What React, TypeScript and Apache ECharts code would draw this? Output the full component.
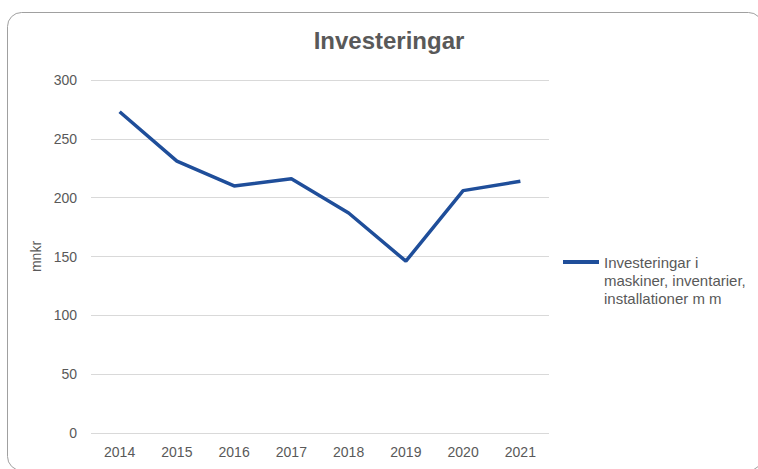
import React, { useEffect, useRef } from "react";
import * as echarts from "echarts";

const years = ["2014", "2015", "2016", "2017", "2018", "2019", "2020", "2021"];
const investeringar = [273, 231, 210, 216, 187, 146, 206, 214];
const seriesName = "Investeringar i\nmaskiner, inventarier,\ninstallationer m m";
const titleText = "Investeringar";
const yAxisName = "mnkr";

export default function App() {
  const ref = useRef<HTMLDivElement>(null);
  useEffect(() => {
    document.body.style.margin = "0";
    if (!ref.current) return;
    const chart = echarts.init(ref.current, null, { renderer: "svg" });
    chart.setOption({
      animation: false,
      backgroundColor: "#ffffff",
      textStyle: { fontFamily: "Liberation Sans, Arial, sans-serif" },
      title: {
        text: titleText,
        left: 384,
        textAlign: "center",
        top: 23,
        textStyle: { fontSize: 24, fontWeight: "bold", color: "#595959", fontFamily: "Liberation Sans, Arial, sans-serif" },
      },
      graphic: [
        {
          type: "rect",
          shape: { x: 7.5, y: 12.5, width: 755, height: 458, r: 14 },
          style: { fill: "none", stroke: "#a0a0a0", lineWidth: 1 },
          silent: true,
        },
      ],
      grid: { left: 91, right: 209, top: 80, bottom: 36, containLabel: false },
      legend: {
        left: 558,
        top: 212,
        orient: "vertical",
        icon: "rect",
        itemWidth: 36,
        itemHeight: 4,
        itemGap: 4,
        formatter: (name: string) => "\n\n" + name,
        textStyle: {
          fontSize: 15,
          color: "#595959",
          lineHeight: 18,
        },
        data: [seriesName],
      },
      xAxis: {
        type: "category",
        data: years,
        boundaryGap: true,
        axisLine: { show: false },
        axisTick: { show: false },
        axisLabel: { color: "#595959", fontSize: 14, margin: 12 },
      },
      yAxis: {
        type: "value",
        min: 0,
        max: 300,
        interval: 50,
        name: yAxisName,
        nameLocation: "middle",
        nameRotate: 90,
        nameGap: 46,
        nameTextStyle: { color: "#595959", fontSize: 14 },
        axisLine: { show: false },
        axisTick: { show: false },
        axisLabel: { color: "#595959", fontSize: 14, margin: 14 },
        splitLine: { lineStyle: { color: "#d9d9d9", width: 1 } },
      },
      series: [
        {
          name: seriesName,
          type: "line",
          data: investeringar,
          symbol: "none",
          lineStyle: { color: "#1f4e9a", width: 3.5 },
          itemStyle: { color: "#1f4e9a" },
        },
      ],
    });
    return () => chart.dispose();
  }, []);
  return <div ref={ref} style={{ width: 758, height: 469 }} />;
}
